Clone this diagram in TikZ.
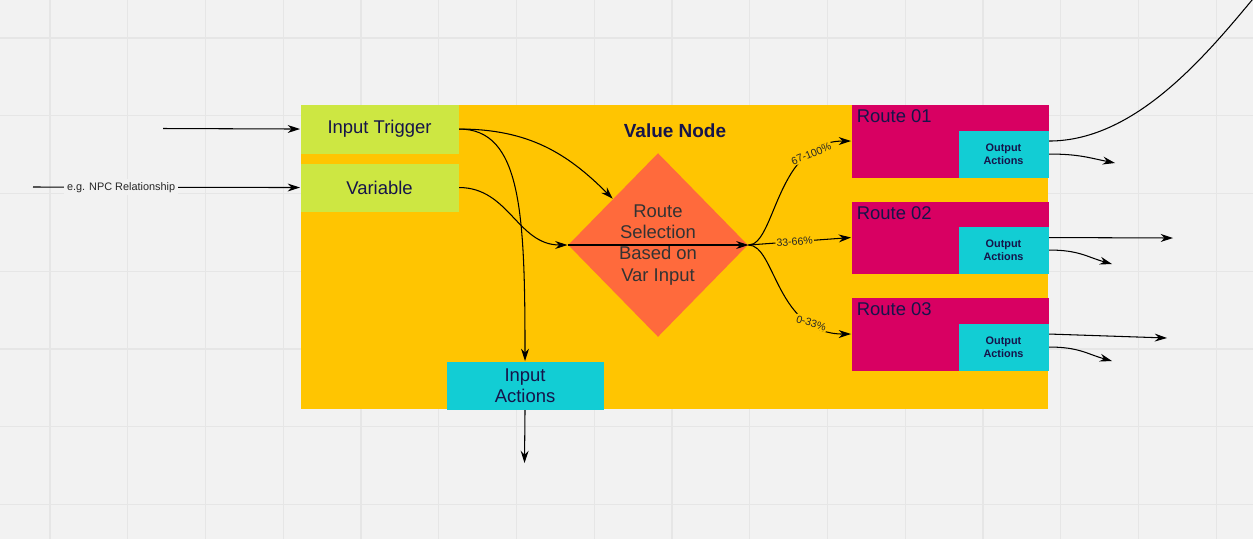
\documentclass[tikz,border=0pt]{standalone}
\usepackage{fontspec}
\setmainfont{Liberation Sans}
\usetikzlibrary{positioning, shapes.geometric, arrows.meta}

\definecolor{bggray}{HTML}{F2F2F2}
\definecolor{gridgray}{HTML}{E6E6E6}
\definecolor{vorange}{HTML}{FFC501}
\definecolor{vlime}{HTML}{CDE742}
\definecolor{vtomato}{HTML}{FF6A3C}
\definecolor{vroute}{HTML}{D80062}
\definecolor{vcyan}{HTML}{12CDD4}
\definecolor{navytext}{HTML}{16144A}
\definecolor{seltext}{HTML}{333333}

\begin{document}
\begin{tikzpicture}[
  x=0.02cm, y=-0.02cm,
  >={Stealth[length=7pt,width=4.5pt]},
  line width=0.6pt,
  every node/.style={font=\fontsize{10.5}{12}\selectfont, text=navytext},
  box/.style={rectangle, inner sep=0pt, anchor=north west, align=center},
  inbox/.style={box, fill=vlime},
  routebox/.style={box, fill=vroute, minimum width=3.94cm, minimum height=1.46cm},
  outbox/.style={rectangle, inner sep=0pt, fill=vcyan, anchor=south east, align=center,
    minimum width=1.8cm, minimum height=0.94cm, font=\fontsize{6.2}{7.2}\selectfont\bfseries},
  selbox/.style={diamond, fill=vtomato, inner sep=0pt, align=center, text=seltext,
    minimum width=3.6cm, minimum height=3.68cm},
  pct/.style={font=\fontsize{6}{7}\selectfont, text=black!85, fill=vorange, inner sep=0.6pt},
  link/.style={->, black}
]
\useasboundingbox (0,0) rectangle (1253,539);
\clip (0,0) rectangle (1253,539);
% Background grid
\fill[bggray] (0,0) rectangle (1253,539);
\foreach \gx in {0,...,15}
  \draw[gridgray, line width=0.8pt] (50+77.75*\gx,0) -- (50+77.75*\gx,539);
\foreach \gy in {0,...,6}
  \draw[gridgray, line width=0.8pt] (0,38+77.75*\gy) -- (1253,38+77.75*\gy);

% Value node container
\node[box, fill=vorange, minimum width=14.96cm, minimum height=6.1cm] (vnode) at (300,104) {};
\node[font=\fontsize{10.8}{12}\selectfont\bfseries] (vlabel) at (675,131) {Value Node};

% Inputs
\node[inbox, minimum width=3.16cm, minimum height=0.98cm] (trig) at (300,104) {Input Trigger};
\node[inbox, minimum width=3.16cm, minimum height=0.96cm] (var) at (300,163) {Variable};
\node[box, fill=vcyan, minimum width=3.14cm, minimum height=0.96cm] (inact) at (446,361) {Input\\Actions};

% Route selection
\node[selbox] (sel) at (658,245) {Route\\Selection\\Based on\\Var Input};

% Routes
\node[routebox, label={[anchor=north west, inner sep=3pt]north west:Route 01}] (r1) at (851,104) {};
\node[routebox, minimum height=1.44cm, label={[anchor=north west, inner sep=3pt]north west:Route 02}] (r2) at (851,201) {};
\node[routebox, label={[anchor=north west, inner sep=3pt]north west:Route 03}] (r3) at (851,297) {};
\node[outbox] (o1) at (r1.south east) {Output\\Actions};
\node[outbox] (o2) at (r2.south east) {Output\\Actions};
\node[outbox] (o3) at (r3.south east) {Output\\Actions};

% Free ends
\coordinate (trigsrc) at (163,128.5);
\coordinate (varsrc) at (33,187);
\coordinate (inout) at (524.5,463);
\coordinate (exit) at (1262,-12);
\coordinate (o1end) at (1115,163);
\coordinate (r2end) at (1173,238);
\coordinate (o2end) at (1112,264);
\coordinate (r3end) at (1167,338);
\coordinate (o3end) at (1112,361);

% Incoming
\draw[link] (trigsrc) -- (trig.west);
\draw[link] (varsrc) -- node[pos=0.33, fill=bggray, inner sep=1.5pt, text=black!85,
  font=\fontsize{6.2}{7}\selectfont] {e.g. NPC Relationship} (var.west);

% Inside the value node
\draw[link] (trig.east) .. controls +(70,0) and +(-45,-45) .. (sel.north west);
\draw[link] (trig.east) .. controls +(62,0) and +(0,-150) .. (inact.north);
\draw[link] (var.east) .. controls +(50,0) and +(-50,0) .. (sel.west);
\draw[link] (sel.west) -- (sel.east);
\draw[link] (sel.east) .. controls +(27,0) and +(-75,0) .. node[pct, pos=0.78, rotate=22] {67-100\%} (r1.west);
\draw[link] (sel.east) -- node[pct, pos=0.45, sloped] {33-66\%} (r2.west);
\draw[link] (sel.east) .. controls +(27,0) and +(-75,0) .. node[pct, pos=0.78, rotate=-17] {0-33\%} (r3.west);
\draw[link] (inact.south) -- (inout);

% Outgoing
\draw[black] (r1.east) .. controls +(90,0) and +(-50,60) .. (exit);
\draw[link] (o1.east) .. controls +(30,0) and +(-25,-5) .. (o1end);
\draw[link] (r2.east) -- (r2end);
\draw[link] (o2.east) .. controls +(30,0) and +(-25,-7) .. (o2end);
\draw[link] (r3.east) -- (r3end);
\draw[link] (o3.east) .. controls +(30,0) and +(-25,-7) .. (o3end);
\end{tikzpicture}
\end{document}
